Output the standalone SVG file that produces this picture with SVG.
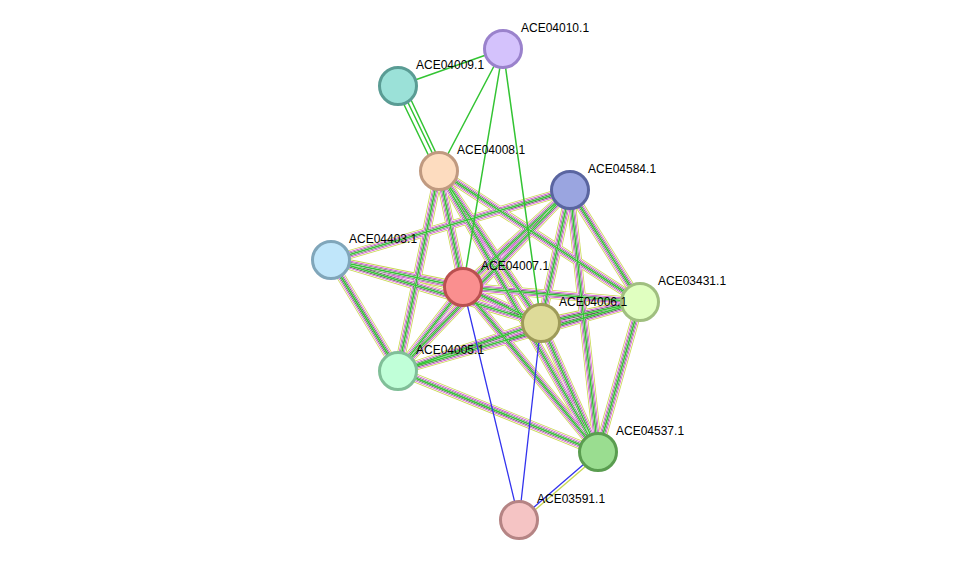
<svg xmlns="http://www.w3.org/2000/svg" xmlns:xlink="http://www.w3.org/1999/xlink" width="975" height="566" viewBox="0 0 975 566">
<style>
.n{stroke-width:3}
text{font-family:"Liberation Sans",Arial,sans-serif;font-size:12px;fill:#000}
.a{stroke:#c8d850;stroke-width:9;fill:none}
.w1{stroke:#fff;stroke-width:7.4}
.m{stroke:#d040d0;stroke-width:6}
.w2{stroke:#fff;stroke-width:4.6}
.k{stroke:#444;stroke-width:3.4}
.w3{stroke:#fff;stroke-width:2.3}
.bl{stroke:#3333ee;stroke-width:1.2}
.g{stroke:#33c433;stroke-width:1.5;fill:none}
.b{stroke:#3333ee;stroke-width:1.3;fill:none}
</style>
<rect width="975" height="566" fill="#fff"/>
<defs>
<path id="e1" d="M439 171L463 287"/>
<path id="e2" d="M439 171L541 323"/>
<path id="e3" d="M439 171L398 371"/>
<path id="e4" d="M439 171L640 302"/>
<path id="e5" d="M439 171L598 452"/>
<path id="e6" d="M570 190L331 260"/>
<path id="e7" d="M570 190L463 287"/>
<path id="e8" d="M570 190L541 323"/>
<path id="e9" d="M570 190L640 302"/>
<path id="e10" d="M570 190L598 452"/>
<path id="e11" d="M331 260L463 287"/>
<path id="e12" d="M331 260L398 371"/>
<path id="e13" d="M331 260L541 323"/>
<path id="e14" d="M463 287L541 323"/>
<path id="e15" d="M463 287L640 302"/>
<path id="e16" d="M463 287L398 371"/>
<path id="e17" d="M463 287L598 452"/>
<path id="e18" d="M541 323L640 302"/>
<path id="e19" d="M541 323L398 371"/>
<path id="e20" d="M541 323L598 452"/>
<path id="e21" d="M398 371L598 452"/>
<path id="e22" d="M640 302L598 452"/>
<path id="e23" d="M398 371L640 302"/>
<path id="e24" d="M570 190L398 371"/>
</defs>
<g id="connectors">
<g>
<use xlink:href="#e1" class="a"/><use xlink:href="#e2" class="a"/><use xlink:href="#e3" class="a"/><use xlink:href="#e4" class="a"/><use xlink:href="#e5" class="a"/><use xlink:href="#e6" class="a"/><use xlink:href="#e7" class="a"/><use xlink:href="#e8" class="a"/><use xlink:href="#e9" class="a"/><use xlink:href="#e10" class="a"/><use xlink:href="#e11" class="a"/><use xlink:href="#e12" class="a"/><use xlink:href="#e13" class="a"/><use xlink:href="#e14" class="a"/><use xlink:href="#e15" class="a"/><use xlink:href="#e16" class="a"/><use xlink:href="#e17" class="a"/><use xlink:href="#e18" class="a"/><use xlink:href="#e19" class="a"/><use xlink:href="#e20" class="a"/><use xlink:href="#e21" class="a"/><use xlink:href="#e22" class="a"/><use xlink:href="#e23" class="a"/><use xlink:href="#e24" class="a"/>
</g>
<g fill="none">
<use xlink:href="#e1" class="w1"/><use xlink:href="#e2" class="w1"/><use xlink:href="#e3" class="w1"/><use xlink:href="#e4" class="w1"/><use xlink:href="#e5" class="w1"/><use xlink:href="#e6" class="w1"/><use xlink:href="#e7" class="w1"/><use xlink:href="#e8" class="w1"/><use xlink:href="#e9" class="w1"/><use xlink:href="#e10" class="w1"/><use xlink:href="#e11" class="w1"/><use xlink:href="#e12" class="w1"/><use xlink:href="#e13" class="w1"/><use xlink:href="#e14" class="w1"/><use xlink:href="#e15" class="w1"/><use xlink:href="#e16" class="w1"/><use xlink:href="#e17" class="w1"/><use xlink:href="#e18" class="w1"/><use xlink:href="#e19" class="w1"/><use xlink:href="#e20" class="w1"/><use xlink:href="#e21" class="w1"/><use xlink:href="#e22" class="w1"/><use xlink:href="#e23" class="w1"/><use xlink:href="#e24" class="w1"/>
<use xlink:href="#e1" class="m"/><use xlink:href="#e2" class="m"/><use xlink:href="#e3" class="m"/><use xlink:href="#e4" class="m"/><use xlink:href="#e5" class="m"/><use xlink:href="#e6" class="m"/><use xlink:href="#e7" class="m"/><use xlink:href="#e8" class="m"/><use xlink:href="#e9" class="m"/><use xlink:href="#e10" class="m"/><use xlink:href="#e11" class="m"/><use xlink:href="#e12" class="m"/><use xlink:href="#e13" class="m"/><use xlink:href="#e14" class="m"/><use xlink:href="#e15" class="m"/><use xlink:href="#e16" class="m"/><use xlink:href="#e17" class="m"/><use xlink:href="#e18" class="m"/><use xlink:href="#e19" class="m"/><use xlink:href="#e20" class="m"/><use xlink:href="#e21" class="m"/><use xlink:href="#e22" class="m"/><use xlink:href="#e23" class="m"/><use xlink:href="#e24" class="m"/>
<use xlink:href="#e1" class="w2"/><use xlink:href="#e2" class="w2"/><use xlink:href="#e3" class="w2"/><use xlink:href="#e4" class="w2"/><use xlink:href="#e5" class="w2"/><use xlink:href="#e6" class="w2"/><use xlink:href="#e7" class="w2"/><use xlink:href="#e8" class="w2"/><use xlink:href="#e9" class="w2"/><use xlink:href="#e10" class="w2"/><use xlink:href="#e11" class="w2"/><use xlink:href="#e12" class="w2"/><use xlink:href="#e13" class="w2"/><use xlink:href="#e14" class="w2"/><use xlink:href="#e15" class="w2"/><use xlink:href="#e16" class="w2"/><use xlink:href="#e17" class="w2"/><use xlink:href="#e18" class="w2"/><use xlink:href="#e19" class="w2"/><use xlink:href="#e20" class="w2"/><use xlink:href="#e21" class="w2"/><use xlink:href="#e22" class="w2"/><use xlink:href="#e23" class="w2"/><use xlink:href="#e24" class="w2"/>
<use xlink:href="#e1" class="k"/><use xlink:href="#e2" class="k"/><use xlink:href="#e3" class="k"/><use xlink:href="#e4" class="k"/><use xlink:href="#e5" class="k"/><use xlink:href="#e6" class="k"/><use xlink:href="#e7" class="k"/><use xlink:href="#e8" class="k"/><use xlink:href="#e9" class="k"/><use xlink:href="#e10" class="k"/><use xlink:href="#e11" class="k"/><use xlink:href="#e12" class="k"/><use xlink:href="#e13" class="k"/><use xlink:href="#e14" class="k"/><use xlink:href="#e15" class="k"/><use xlink:href="#e16" class="k"/><use xlink:href="#e17" class="k"/><use xlink:href="#e18" class="k"/><use xlink:href="#e19" class="k"/><use xlink:href="#e20" class="k"/><use xlink:href="#e21" class="k"/><use xlink:href="#e22" class="k"/><use xlink:href="#e23" class="k"/><use xlink:href="#e24" class="k"/>
<use xlink:href="#e1" class="w3"/><use xlink:href="#e2" class="w3"/><use xlink:href="#e3" class="w3"/><use xlink:href="#e4" class="w3"/><use xlink:href="#e5" class="w3"/><use xlink:href="#e6" class="w3"/><use xlink:href="#e7" class="w3"/><use xlink:href="#e8" class="w3"/><use xlink:href="#e9" class="w3"/><use xlink:href="#e10" class="w3"/><use xlink:href="#e11" class="w3"/><use xlink:href="#e12" class="w3"/><use xlink:href="#e13" class="w3"/><use xlink:href="#e14" class="w3"/><use xlink:href="#e15" class="w3"/><use xlink:href="#e16" class="w3"/><use xlink:href="#e17" class="w3"/><use xlink:href="#e18" class="w3"/><use xlink:href="#e19" class="w3"/><use xlink:href="#e20" class="w3"/><use xlink:href="#e21" class="w3"/><use xlink:href="#e22" class="w3"/><use xlink:href="#e23" class="w3"/><use xlink:href="#e24" class="w3"/>
<use xlink:href="#e1" class="g"/><use xlink:href="#e2" class="g"/><use xlink:href="#e3" class="g"/><use xlink:href="#e4" class="g"/><use xlink:href="#e5" class="g"/><use xlink:href="#e6" class="g"/><use xlink:href="#e7" class="g"/><use xlink:href="#e8" class="g"/><use xlink:href="#e9" class="g"/><use xlink:href="#e10" class="g"/><use xlink:href="#e11" class="g"/><use xlink:href="#e12" class="g"/><use xlink:href="#e13" class="g"/><use xlink:href="#e14" class="g"/><use xlink:href="#e15" class="g"/><use xlink:href="#e16" class="g"/><use xlink:href="#e17" class="g"/><use xlink:href="#e18" class="g"/><use xlink:href="#e19" class="g"/><use xlink:href="#e20" class="g"/><use xlink:href="#e21" class="g"/><use xlink:href="#e22" class="g"/><use xlink:href="#e23" class="g"/><use xlink:href="#e24" class="g"/>
</g>
<path class="g" d="M503 49L398 86M503 49L439 171M503 49L463 287M503 49L541 323M396 88L437 173M400 86L441 171M404 85L444 170"/>
<path class="b" d="M463 287L519 520M541 323L519 520M598 452L519 520"/>
<path d="M600 454L521 522" stroke="#c8d850" stroke-width="1.3"/>
</g>
<g id="ACE04010.1"><circle class="n" cx="503" cy="49" r="18.5" fill="#d4c2fc" stroke="#9a82cc"/><text x="521" y="32">ACE04010.1</text></g>
<g id="ACE04009.1"><circle class="n" cx="398" cy="86" r="18.5" fill="#9be1d8" stroke="#5a9c94"/><text x="416" y="69">ACE04009.1</text></g>
<g id="ACE04008.1"><circle class="n" cx="439" cy="171" r="18.5" fill="#fddcbf" stroke="#c09a80"/><text x="457" y="154">ACE04008.1</text></g>
<g id="ACE04584.1"><circle class="n" cx="570" cy="190" r="18.5" fill="#9aa5e0" stroke="#5a65a0"/><text x="588" y="173">ACE04584.1</text></g>
<g id="ACE04403.1"><circle class="n" cx="331" cy="260" r="18.5" fill="#c0e6fa" stroke="#80a6ba"/><text x="349" y="243">ACE04403.1</text></g>
<g id="ACE04007.1"><circle class="n" cx="463" cy="287" r="18.5" fill="#fa8f8f" stroke="#ba5050"/><text x="481" y="270">ACE04007.1</text></g>
<g id="ACE03431.1"><circle class="n" cx="640" cy="302" r="18.5" fill="#e0ffc0" stroke="#a0bf80"/><text x="658" y="285">ACE03431.1</text></g>
<g id="ACE04006.1"><text x="559" y="306">ACE04006.1</text><circle class="n" cx="541" cy="323" r="18.5" fill="#dedb99" stroke="#9e9b59"/></g>
<g id="ACE04005.1"><circle class="n" cx="398" cy="371" r="18.5" fill="#c0ffd8" stroke="#80bf98"/><text x="416" y="354">ACE04005.1</text></g>
<g id="ACE04537.1"><circle class="n" cx="598" cy="452" r="18.5" fill="#9add90" stroke="#5a9d50"/><text x="616" y="435">ACE04537.1</text></g>
<g id="ACE03591.1"><circle class="n" cx="519" cy="520" r="18.5" fill="#f5c4c4" stroke="#b58484"/><text x="537" y="503">ACE03591.1</text></g>
</svg>
